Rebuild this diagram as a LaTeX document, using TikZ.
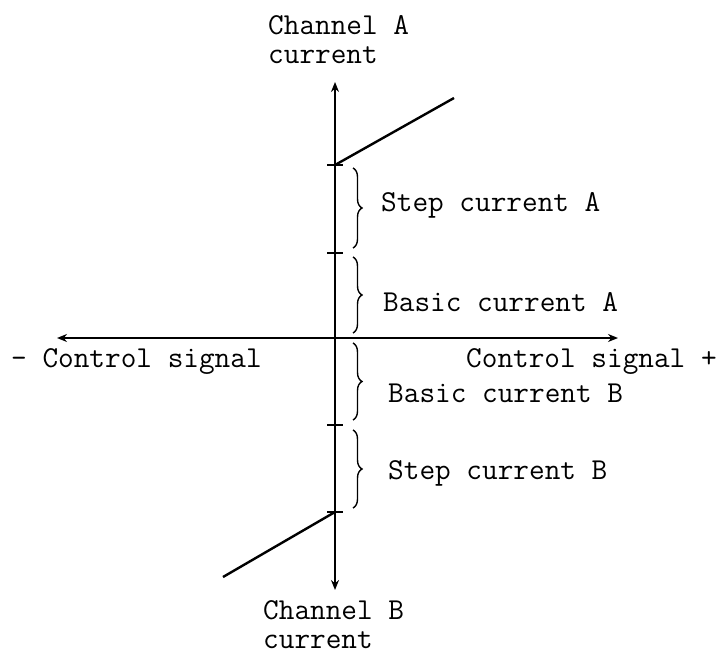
\documentclass[tikz,border=0pt]{standalone}
\usetikzlibrary{arrows.meta,decorations.pathreplacing}
\newcommand{\lblfont}{\ttfamily\fontsize{15.2pt}{14.5pt}\selectfont}

\begin{document}
\begin{tikzpicture}[x=0.5pt,y=-0.5pt,line width=1.2pt,
  lbl/.style={font=\lblfont,inner sep=0pt,anchor=west},
  brc/.style={decorate,decoration={brace,amplitude=4.5pt},line width=0.7pt},
  axis/.style={{Stealth[length=5pt,width=4pt]}-{Stealth[length=5pt,width=4pt]}}]
\useasboundingbox (0,0) rectangle (722,658);
% axes
\coordinate (top) at (335,82);
\coordinate (bot) at (335,590);
\coordinate (lft) at (57,338);
\coordinate (rgt) at (618,338);
\draw[axis] (bot) -- (top);
\draw[axis] (lft) -- (rgt);
% ticks on the current axis
\foreach \n/\y in {t1/165,t2/253,t3/425,t4/512} {
  \coordinate (\n) at (335,\y);
  \draw (327,\y) -- (343,\y);
}
% channel characteristics
\coordinate (endA) at (454,98);
\coordinate (endB) at (223,577);
\draw (t1) -- (endA);
\draw (t4) -- (endB);
% braces
\draw[brc] (353,168) -- (353,248);
\draw[brc] (353,257) -- (353,333);
\draw[brc] (353,343) -- (353,420);
\draw[brc] (353,430) -- (353,508);
% labels
\node[lbl] (stepA) at (380,205) {Step current A};
\node[lbl] (basicA) at (382,302) {Basic current A};
\node[lbl] (basicB) at (387,393) {Basic current B};
\node[lbl] (stepB) at (387,473) {Step current B};
\node[lbl] (negsig) at (10,362) {- Control signal};
\node[lbl] (possig) at (465,362) {Control signal +};
\node[lbl,align=left] (chA) at (267,40) {Channel A\\current};
\node[lbl,align=left] (chB) at (262,625) {Channel B\\current};
\end{tikzpicture}
\end{document}
